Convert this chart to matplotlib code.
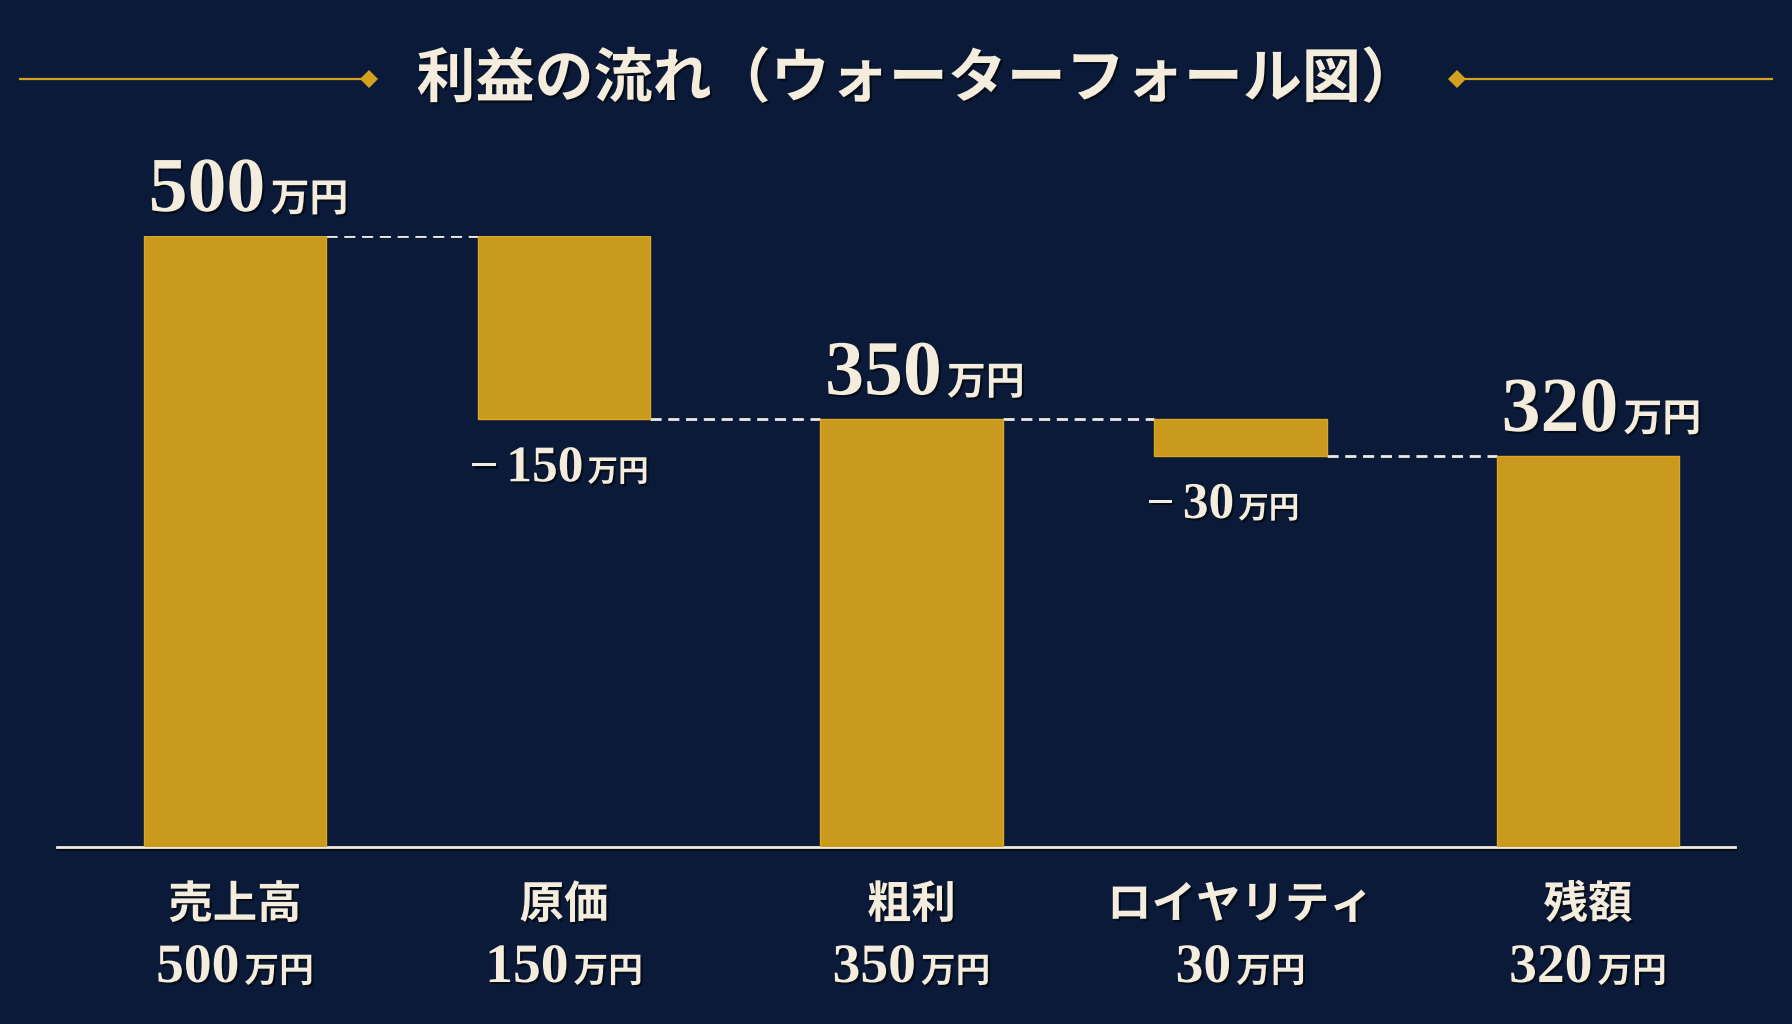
import matplotlib
matplotlib.use("Agg")
import matplotlib.pyplot as plt
from matplotlib.transforms import IdentityTransform
from matplotlib.lines import Line2D
import matplotlib.patheffects as pe

# ---------------- data ----------------
categories = ["売上高", "原価", "粗利", "ロイヤリティ", "残額"]
values = [500, -150, 350, -30, 320]          # 万円
kinds = ["total", "delta", "total", "delta", "total"]
title = "利益の流れ（ウォーターフォール図）"
unit = "万円"

# ---------------- style ----------------
BG = "#0b1a38"
GOLD = "#c99a1e"
GOLD_EDGE = "#dba823"
LINE_GOLD = "#d4a11f"
TXT = "#f4ecdc"
NUM_FAM = ["Liberation Serif", "Noto Sans CJK JP"]
CJK_FAM = ["Noto Sans CJK JP", "DejaVu Sans"]
W, H = 1792, 1024

shadow = [pe.withSimplePatchShadow(offset=(1.5, -1.5), shadow_rgbFace="black", alpha=0.55)]

fig = plt.figure(figsize=(W / 100, H / 100), dpi=100, facecolor=BG)
ax = fig.add_axes([57 / W, (H - 847) / H, (1735 - 57) / W, (847 - 236) / H])
ax.set_facecolor(BG)
ax.set_xlim(-0.5262, 4.4346)
ax.set_ylim(0, 500)
for s in ["top", "left", "right"]:
    ax.spines[s].set_visible(False)
ax.spines["bottom"].set_color("#f0ebe0")
ax.spines["bottom"].set_linewidth(2.0)
ax.spines["bottom"].set_path_effects(
    [pe.SimpleLineShadow(offset=(1, -1.5), shadow_color="black", alpha=0.6), pe.Normal()])
ax.set_xticks([])
ax.set_yticks([])

# ---------------- waterfall geometry from data ----------------
xs = list(range(len(values)))
bottoms, heights, widths = [], [], []
running = 0
for v, k in zip(values, kinds):
    if k == "total":
        bottoms.append(0)
        heights.append(v)
        running = v
        widths.append(0.54)
    else:
        new = running + v
        bottoms.append(min(running, new))
        heights.append(abs(v))
        running = new
        widths.append(0.51)

# delta bars sit slightly left of their slot in the reference layout
shift = [0.0 if k == "total" else -0.027 for k in kinds]
bar_x = [x + s for x, s in zip(xs, shift)]

ax.bar(bar_x, heights, bottom=bottoms, width=widths, color=GOLD,
       edgecolor=GOLD_EDGE, linewidth=1.0, zorder=3)

# dashed connectors
for i in range(len(values) - 1):
    if kinds[i] == "total":
        level = bottoms[i] + heights[i]
    else:
        level = bottoms[i] if values[i] < 0 else bottoms[i] + heights[i]
    x0 = bar_x[i] + widths[i] / 2
    x1 = bar_x[i + 1] - widths[i + 1] / 2
    ax.plot([x0, x1], [level, level], color="#eeeae2", lw=2.0,
            linestyle=(0, (4, 2.4)), zorder=2, solid_capstyle="butt")

renderer = fig.canvas.get_renderer()


def compound(x, y, parts, align="left"):
    """parts: list of (string, fontsize, family, gap_before). x,y in display px."""
    texts = []
    for s, size, fam, _g in parts:
        t = fig.text(0, 0, s, transform=IdentityTransform(), fontsize=size,
                     family=fam, weight="bold", color=TXT, ha="left",
                     va="baseline", path_effects=shadow)
        texts.append(t)
    ws = [t.get_window_extent(renderer).width for t in texts]
    gaps = [p[3] for p in parts]
    total = sum(ws) + sum(gaps[1:])
    cx = x - total / 2 if align == "center" else x
    for j, (t, w) in enumerate(zip(texts, ws)):
        if j > 0:
            cx += gaps[j]
        t.set_position((cx, y))
        cx += w
    return texts


# value labels on bars
for i, (v, k) in enumerate(zip(values, kinds)):
    left = bar_x[i] - widths[i] / 2
    if k == "total":
        px, py = ax.transData.transform((left, bottoms[i] + heights[i]))
        compound(px + 5, py + 25, [(f"{v}", 56, NUM_FAM, 0), (unit, 28, CJK_FAM, 5)])
    else:
        px, py = ax.transData.transform((left, bottoms[i]))
        compound(px - 8, py - 62, [("\u2212", 36, NUM_FAM, 0),
                                   (f"{abs(v)}", 37, NUM_FAM, 8),
                                   (unit, 22, CJK_FAM, 4)])

# category labels
for i, (c, v) in enumerate(zip(categories, values)):
    px, py = ax.transData.transform((bar_x[i], 0))
    fig.text(px, py - 58, c, transform=IdentityTransform(), fontsize=32,
             family=CJK_FAM, weight="bold", color=TXT, ha="center", va="center",
             path_effects=shadow)
    compound(px, py - 135, [(f"{abs(v)}", 40, NUM_FAM, 0), (unit, 25, CJK_FAM, 5)],
             align="center")

# title
fig.text(918 / W, 1 - 80 / H, title, fontsize=42.5, family=CJK_FAM, weight="bold",
         color=TXT, ha="center", va="center", path_effects=shadow)
ty = 1 - 79 / H
fig.add_artist(Line2D([20 / W, 369 / W], [ty, ty], transform=fig.transFigure,
                      color=LINE_GOLD, lw=1.6))
fig.add_artist(Line2D([1457 / W, 1772 / W], [ty, ty], transform=fig.transFigure,
                      color=LINE_GOLD, lw=1.6))
for dx in (369, 1457):
    fig.add_artist(Line2D([dx / W], [ty], transform=fig.transFigure, marker="D",
                          markersize=9, color=LINE_GOLD, markeredgewidth=0))

fig.savefig("out.png", dpi=100, facecolor=BG)
